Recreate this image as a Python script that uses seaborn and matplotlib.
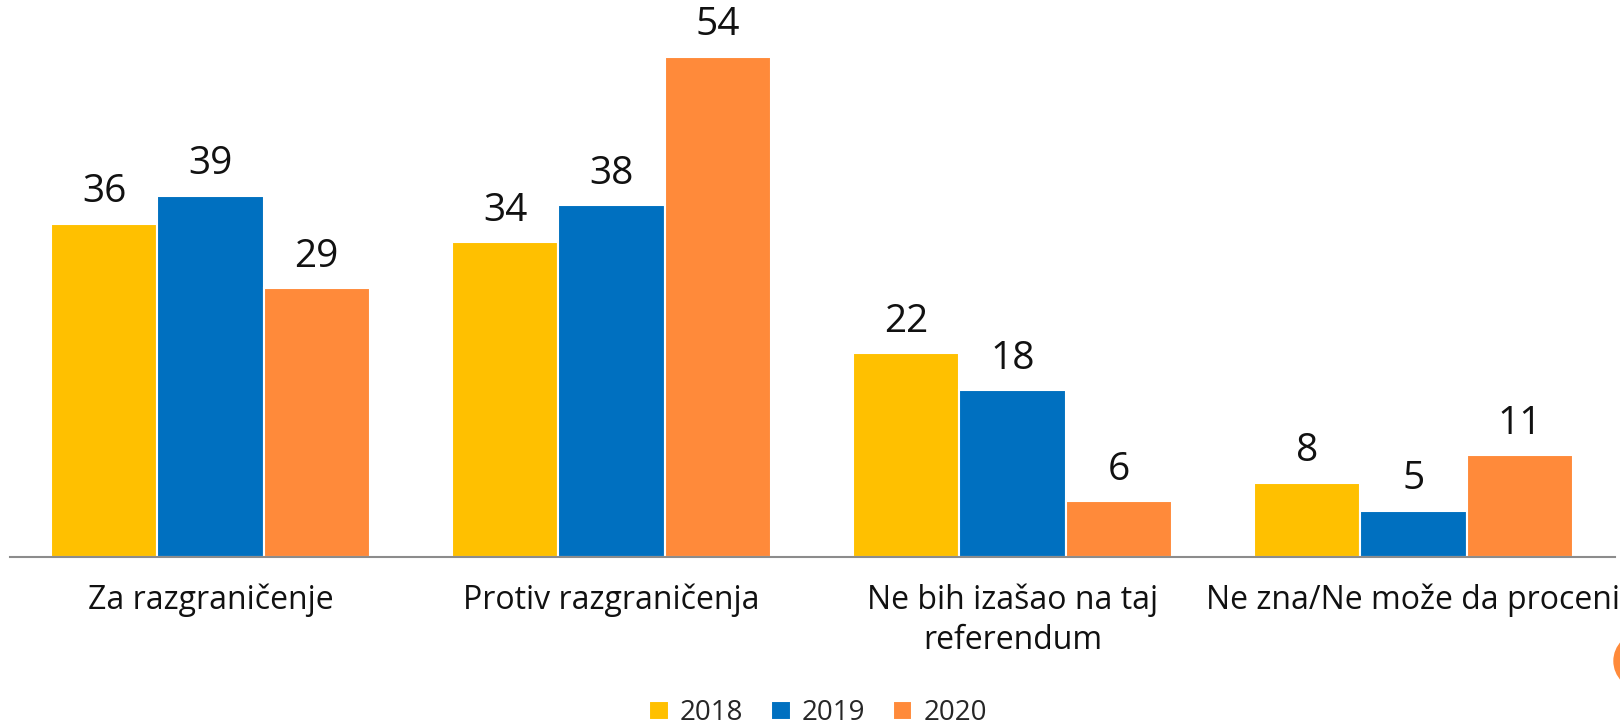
import numpy as np
import pandas as pd
import matplotlib
matplotlib.use("Agg")
import matplotlib.pyplot as plt
import matplotlib.patches as mpatches
import seaborn as sns

# ── podaci ──────────────────────────────────────────────
kategorije = ["Za razgraničenje", "Protiv razgraničenja",
              "Ne bih izašao na taj\nreferendum", "Ne zna/Ne može da proceni"]
godine = ["2018", "2019", "2020"]
v2018 = [36, 34, 22, 8]
v2019 = [39, 38, 18, 5]
v2020 = [29, 54, 6, 11]
boje = ["#FFC000", "#0070C0", "#FF8A3A"]

df = pd.DataFrame({
    "kategorija": kategorije * 3,
    "godina": np.repeat(godine, len(kategorije)),
    "procenat": v2018 + v2019 + v2020,
})

# ── stil ────────────────────────────────────────────────
sns.set_style("white")
plt.rcParams["font.family"] = ["Open Sans", "DejaVu Sans"]

W, H = 1620, 725
fig = plt.figure(figsize=(W / 100, H / 100), dpi=100)
ax = fig.add_axes([10 / W, 168 / H, 1605 / W, 557 / H])

sns.barplot(data=df, x="kategorija", y="procenat", hue="godina",
            palette=boje, width=0.795, saturation=1, dodge=True,
            edgecolor="white", linewidth=1.5, ax=ax, legend=True)

for c in ax.containers:
    ax.bar_label(c, fmt="%d", fontsize=28, padding=9, color="#111111")

ax.set_ylim(0, 60.15)
ax.set_xlim(-0.50, 3.5025)
ax.set_xlabel("")
ax.set_ylabel("")
ax.set_yticks([])
ax.tick_params(axis="x", length=0, pad=19, labelsize=23, colors="#111111")
for t in ax.get_xticklabels():
    t.set_linespacing(1.3)
for s in ["top", "right", "left"]:
    ax.spines[s].set_visible(False)
ax.spines["bottom"].set_color("#8C8C8C")
ax.spines["bottom"].set_linewidth(1.5)

# legenda
h, l = ax.get_legend_handles_labels()
ax.get_legend().remove()
fig.legend(h, l, loc="center", bbox_to_anchor=(0.505, 0.016), ncol=3,
           frameon=False, fontsize=20, handlelength=0.7, handleheight=0.7,
           handletextpad=0.4, columnspacing=1.0)

# ukrasni krug desno (deo slajda)
fig.add_artist(mpatches.Ellipse((1642 / W, 1 - 661 / H), 2 * 28 / W, 2 * 28 / H,
                                transform=fig.transFigure, color="#FF8A3A",
                                clip_on=False))

plt.savefig("out.png", dpi=100)
plt.close()
